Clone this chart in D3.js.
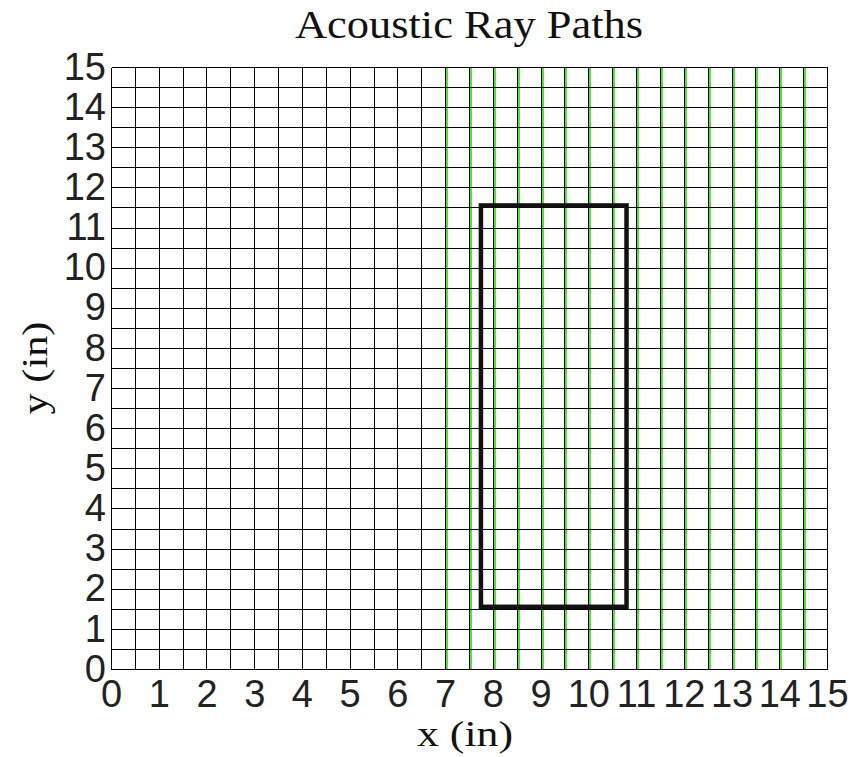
<!DOCTYPE html>
<html>
<head>
<meta charset="utf-8">
<script src="https://cdn.jsdelivr.net/npm/d3@7"></script>
<style>
  html, body { margin: 0; padding: 0; background: #fff; }
  svg { display: block; }
</style>
</head>
<body>
<svg id="chart" width="852" height="757"></svg>
<script>
// Axis ticks (inches)
const xTicks = [0, 1, 2, 3, 4, 5, 6, 7, 8, 9, 10, 11, 12, 13, 14, 15];
const yTicks = [0, 1, 2, 3, 4, 5, 6, 7, 8, 9, 10, 11, 12, 13, 14, 15];
// Mesh spacing (inches)
const gridStep = 0.5;
// Vertical acoustic rays: x positions (inches)
const rayX = [7, 7.5, 8, 8.5, 9, 9.5, 10, 10.5, 11, 11.5, 12, 12.5, 13, 13.5, 14, 14.5];
// Rays run across the whole domain in y
const rayY = [0, 15];
// Outline of the inclusion (inches)
const boxX = [7.75, 10.8];
const boxY = [1.55, 11.55];

const svg = d3.select("#chart");
const plot = { left: 111, right: 827, top: 67, bottom: 669 };

const x = d3.scaleLinear().domain([0, 15]).range([plot.left, plot.right]);
const y = d3.scaleLinear().domain([0, 15]).range([plot.bottom, plot.top]);

const gridVals = d3.range(0, 15 + gridStep / 2, gridStep);
const snap = v => Math.round(v) + 0.5;

// Rays, drawn just beside the mesh lines they follow
svg.append("g").attr("shape-rendering", "crispEdges").selectAll("line").data(rayX).join("line")
  .attr("x1", d => Math.round(x(d)) + 1.5).attr("x2", d => Math.round(x(d)) + 1.5)
  .attr("y1", snap(y(rayY[0]))).attr("y2", snap(y(rayY[1])))
  .attr("stroke", "#55e03a").attr("stroke-width", 2);

// Mesh
const mesh = svg.append("g").attr("stroke", "#000").attr("stroke-width", 1).attr("shape-rendering", "crispEdges");
mesh.selectAll("line.v").data(gridVals).join("line").attr("class", "v")
  .attr("x1", d => snap(x(d))).attr("x2", d => snap(x(d)))
  .attr("y1", snap(y(0))).attr("y2", snap(y(15)));
mesh.selectAll("line.h").data(gridVals).join("line").attr("class", "h")
  .attr("x1", snap(x(0))).attr("x2", snap(x(15)))
  .attr("y1", d => snap(y(d))).attr("y2", d => snap(y(d)));

// Inclusion outline
svg.append("rect")
  .attr("x", x(boxX[0])).attr("y", y(boxY[1]))
  .attr("width", x(boxX[1]) - x(boxX[0]))
  .attr("height", y(boxY[0]) - y(boxY[1]))
  .attr("fill", "none").attr("stroke", "#111").attr("stroke-width", 4.5);

// Axes (tick labels only)
const tickFont = "'Liberation Sans', Arial, sans-serif";
const xAxis = svg.append("g").attr("transform", `translate(0,${plot.bottom})`)
  .call(d3.axisBottom(x).tickValues(xTicks).tickSize(0).tickPadding(11).tickFormat(d3.format("d")));
const yAxis = svg.append("g").attr("transform", `translate(${plot.left},0)`)
  .call(d3.axisLeft(y).tickValues(yTicks).tickSize(0).tickPadding(5).tickFormat(d3.format("d")));
[xAxis, yAxis].forEach(g => {
  g.select(".domain").remove();
  g.selectAll("text").attr("font-family", tickFont).attr("font-size", 38)
    .attr("fill", "#222").attr("font-weight", 300);
});
xAxis.selectAll("text").attr("dy", "0.71em");

// Title and axis titles
const serif = "'Liberation Serif', 'DejaVu Serif', serif";
svg.append("text").attr("x", 469).attr("y", 38)
  .attr("text-anchor", "middle").attr("font-family", serif).attr("font-size", 40)
  .attr("textLength", 348).attr("lengthAdjust", "spacingAndGlyphs")
  .attr("fill", "#111").text("Acoustic Ray Paths");
svg.append("text").attr("x", 465).attr("y", 746)
  .attr("text-anchor", "middle").attr("font-family", serif).attr("font-size", 35)
  .attr("textLength", 96).attr("lengthAdjust", "spacingAndGlyphs")
  .attr("fill", "#111").text("x (in)");
svg.append("text")
  .attr("transform", `translate(47,368) rotate(-90)`)
  .attr("text-anchor", "middle").attr("font-family", serif).attr("font-size", 35)
  .attr("textLength", 93).attr("lengthAdjust", "spacingAndGlyphs")
  .attr("fill", "#111").text("y (in)");
</script>
</body>
</html>
